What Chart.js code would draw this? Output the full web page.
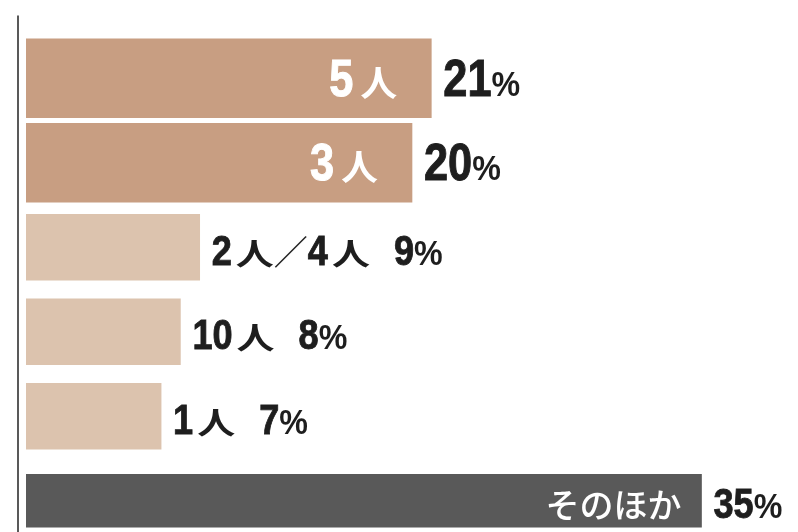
<!DOCTYPE html>
<html>
<head>
<meta charset="utf-8">
<script src="https://cdn.jsdelivr.net/npm/chart.js@4/dist/chart.umd.min.js"></script>
<style>
  html, body { margin: 0; padding: 0; background: #fff; overflow: hidden; width: 798px; height: 532px; }
  #wrap { width: 798px; height: 543px; }
</style>
</head>
<body>
<div id="wrap"><canvas id="grafico"></canvas></div>
<script>
// data
var categorias = ["5人", "3人", "2人／4人", "10人", "1人", "そのほか"];
var percentuais = [21, 20, 9, 8, 7, 35];
var grupos = [0, 0, 1, 1, 1, 2];   // which band each bar belongs to
var nomesGrupos = ["上位", "中位", "そのほか"];

// look of each band
var cores = ["#c89e82", "#dcc3ae", "#595959"];
var espessuras = [79, 66, 53];
var rotuloDentro = [true, false, true];
var margemDentro = [34, 0, 20];

var LATIM = '"Liberation Sans", Arial, sans-serif';
var JP = '"Noto Sans CJK JP", sans-serif';
var pct = { font: 'bold 35px ' + LATIM, sx: 0.92, sy: 1, reforco: 0 };
var kana = { font: '500 34px ' + JP, sx: 1, sy: 1, reforco: 0 };

// text styles per band (top labels are drawn bigger in the original)
var estilosGrupo = [
    {
        num: { font: 'bold 51px ' + LATIM, sx: 0.85, sy: 1, reforco: 1 },
        kan: { font: 'bold 37px ' + JP, sx: 1, sy: 0.95, reforco: 0 },
        cjk: kana, pct: pct, junta: 7
    },
    {
        num: { font: 'bold 42px ' + LATIM, sx: 0.86, sy: 1, reforco: 0.9 },
        kan: { font: 'bold 38px ' + JP, sx: 1, sy: 0.8, reforco: 0 },
        cjk: kana, pct: pct, junta: 4
    },
    {
        num: { font: 'bold 42px ' + LATIM, sx: 0.86, sy: 1, reforco: 0.9 },
        kan: { font: 'bold 38px ' + JP, sx: 1, sy: 0.8, reforco: 0 },
        cjk: kana, pct: pct, junta: 4
    }
];

function tipoDe(c) {
    if (/[0-9]/.test(c)) return 'num';
    if (c === '%') return 'pct';
    if (c === ' ') return 'gap';
    if (/[\u4e00-\u9fff]/.test(c)) return 'kan';
    return 'cjk';
}

function partes(texto) {
    var out = [];
    for (var k = 0; k < texto.length; k++) {
        var tipo = tipoDe(texto[k]);
        var ultimo = out[out.length - 1];
        if (ultimo && ultimo.tipo === tipo) ultimo.txt += texto[k];
        else out.push({ tipo: tipo, txt: texto[k] });
    }
    return out;
}

function escreve(ctx, texto, x, y, alinhamento, cor, estilos) {
    var ps = partes(texto);
    var total = 0;
    ctx.save();
    ps.forEach(function (p, k) {
        if (p.tipo === 'gap') {
            p.w = 24;
        } else {
            ctx.font = estilos[p.tipo].font;
            p.w = ctx.measureText(p.txt).width * estilos[p.tipo].sx;
        }
        p.pre = (k > 0 && ps[k - 1].tipo === 'num' && p.tipo === 'kan') ? estilos.junta : 0;
        total += p.w + p.pre;
    });
    var cx = alinhamento === 'right' ? x - total : x;
    ctx.fillStyle = cor;
    ctx.strokeStyle = cor;
    ctx.textAlign = 'left';
    ctx.textBaseline = 'alphabetic';
    ps.forEach(function (p) {
        cx += p.pre;
        if (p.tipo !== 'gap') {
            var e = estilos[p.tipo];
            ctx.font = e.font;
            ctx.save();
            ctx.translate(cx, y);
            ctx.scale(e.sx, e.sy);
            ctx.fillText(p.txt, 0, 0);
            if (e.reforco) {
                ctx.lineWidth = e.reforco;
                ctx.strokeText(p.txt, 0, 0);
            }
            ctx.restore();
        }
        cx += p.w;
    });
    ctx.restore();
}

// vertical rule on the left, a little before zero
var linhaEixo = {
    id: 'linhaEixo',
    afterDraw: function (chart) {
        var ctx = chart.ctx;
        var x = chart.scales.x.getPixelForValue(0) - 8;
        ctx.save();
        ctx.strokeStyle = '#222';
        ctx.lineWidth = 1.5;
        ctx.beginPath();
        ctx.moveTo(x, 15.5);
        ctx.lineTo(x, chart.height);
        ctx.stroke();
        ctx.restore();
    }
};

var rotulos = {
    id: 'rotulos',
    afterDatasetsDraw: function (chart) {
        var ctx = chart.ctx;
        chart.data.datasets.forEach(function (ds, di) {
            var meta = chart.getDatasetMeta(di);
            var est = estilosGrupo[di];
            meta.data.forEach(function (bar, i) {
                var v = ds.data[i];
                if (v === null || v === undefined) return;
                var yBase = bar.y + 17.5;
                if (rotuloDentro[di]) {
                    escreve(ctx, categorias[i], bar.x - margemDentro[di], yBase, 'right', '#fff', est);
                    escreve(ctx, v + '%', bar.x + 12, yBase, 'left', '#1e1e1e', est);
                } else {
                    escreve(ctx, categorias[i] + ' ' + v + '%', bar.x + 12, yBase, 'left', '#1e1e1e', est);
                }
            });
        });
    }
};

var datasets = nomesGrupos.map(function (nome, g) {
    return {
        label: nome,
        data: percentuais.map(function (v, i) { return grupos[i] === g ? v : null; }),
        backgroundColor: cores[g],
        barThickness: espessuras[g],
        borderWidth: 0
    };
});

var ctx = document.getElementById('grafico').getContext('2d');
window.meuGrafico = new Chart(ctx, {
    type: 'bar',
    data: { labels: categorias, datasets: datasets },
    plugins: [linhaEixo, rotulos],
    options: {
        indexAxis: 'y',
        responsive: true,
        maintainAspectRatio: false,
        animation: false,
        layout: { padding: { left: 26, right: 0, top: 36, bottom: 0 } },
        datasets: { bar: { grouped: false, skipNull: true } },
        scales: {
            x: { display: false, min: 0, max: 40 },
            y: { display: false }
        },
        plugins: {
            legend: { display: false },
            tooltip: { enabled: false },
            title: { display: false }
        }
    }
});
</script>
</body>
</html>
